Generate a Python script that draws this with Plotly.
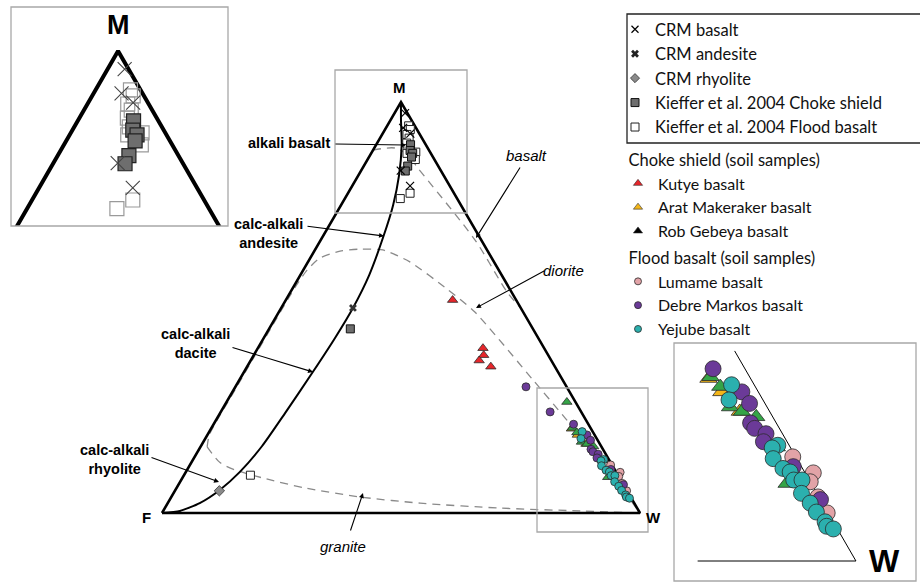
import numpy as np
import plotly.graph_objects as go

FIG_W, FIG_H = 920, 584
H = np.sqrt(3) / 2

# ---------------- compositions: M and W in percent (F = 100 - M - W) ----------------
crm_basalt_M = [97.3, 93.7, 92.3, 83.3, 79.6]
crm_basalt_W = [2.2, 3.6, 5.8, 8.3, 12.1]
crm_andesite_M = [49.9]
crm_andesite_W = [15.0]
crm_rhyolite_M = [5.4]
crm_rhyolite_W = [9.3]
kieffer_choke_M = [89.6, 88.2, 87.5, 86.6, 84.4, 83.2, 44.8]
kieffer_choke_W = [7.2, 7.8, 8.7, 8.9, 9.2, 9.3, 17.0]
kieffer_flood_M = [94.2, 93.3, 92.1, 91.2, 90.0, 88.7, 87.5, 87.8, 86.0, 77.8, 76.5, 9.2]
kieffer_flood_W = [4.5, 5.3, 5.2, 6.1, 6.2, 7.1, 7.5, 9.2, 10.0, 13.0, 11.6, 13.9]

kutye_M = [51.8, 40.1, 38.4, 37.1, 35.6]
kutye_W = [34.9, 47.1, 48.1, 47.8, 51.0]
arat_M = [20.5, 19.0, 16.8]
arat_W = [75.4, 77.4, 80.3]
rob_M = [27.0, 20.7, 19.6, 17.3, 16.8, 16.2, 12.8, 8.7]
rob_W = [71.2, 75.5, 77.0, 79.1, 80.5, 82.2, 85.9, 88.9]

lumame_M = [11.7, 9.9, 8.9, 7.2, 5.4]
lumame_W = [88.0, 90.9, 91.1, 92.7, 94.5]
debre_M = [30.7, 24.6, 21.6, 19.0, 17.7, 15.5, 14.9, 14.3, 13.4, 10.6, 6.9]
debre_W = [60.8, 68.9, 75.3, 79.4, 80.8, 82.0, 82.7, 84.1, 84.3, 88.6, 93.1]
yejube_M = [19.8, 18.1, 13.0, 12.7, 11.5, 10.4, 10.0, 9.1, 9.1, 7.6, 6.5, 5.5, 4.4, 3.9, 3.6]
yejube_W = [78.0, 78.6, 85.9, 85.5, 86.2, 87.7, 88.6, 89.4, 90.2, 90.9, 92.3, 93.4, 94.8, 95.2, 96.0]

# ---------------- diagram boundaries (M, W in percent) ----------------
frame_M = [0, 0, 100, 0]
frame_W = [0, 100, 0, 0]
calc_alkali_M = [0, 0.5, 2.4, 5.6, 10.0, 16.3, 24.3, 34.3, 42.6, 49.9, 57.9, 67.2, 74.9, 82.2, 89.5, 95.6, 100]
calc_alkali_W = [0, 3.5, 6.7, 9.3, 11.3, 12.8, 13.6, 14.4, 14.9, 15.0, 14.4, 12.7, 10.9, 8.5, 5.4, 2.2, 0]
granite_M = [16.1, 12.2, 10.5, 8.5, 6.1, 3.9, 2.4, 1.2, 0.5, 0]
granite_W = [1.4, 6.1, 10.0, 16.9, 26.9, 39.5, 52.8, 70.1, 87.2, 100]
diorite_M = [16.1, 19.0, 30.0, 45.0, 55.0, 59.1, 62.0, 63.7, 64.2, 64.0, 61.1, 54.3, 48.9, 32.4, 23.1, 12.9, 0]
diorite_W = [1.4, 0.4, 0.3, 0.3, 0.4, 0.8, 2.0, 5.4, 9.3, 14.2, 21.3, 32.7, 41.0, 61.4, 72.8, 85.2, 100]
basalt_M = [88.3, 88.8, 87.1, 83.9, 66.4, 53.5, 49.9]
basalt_W = [0, 4.3, 7.9, 11.6, 32.3, 45.6, 50.1]
# partial edges shown in the W close-up
w_edge_M = [23.6, 0, 0]
w_edge_W = [76.4, 100, 84.6]


def tern(m, w):
    m = np.asarray(m, float) / 100.0
    w = np.asarray(w, float) / 100.0
    return w + m / 2.0, m * H


def px(x):
    return x / FIG_W


def py(y):
    return 1 - y / FIG_H


AX = {"main": ("x", "y"), "mtop": ("x2", "y2"), "wcorner": ("x3", "y3")}
fig = go.Figure()


def add_line(m, w, ax, color="black", width=2.0, dash=None, shape="linear", smoothing=0.8):
    x, y = tern(m, w)
    xa, ya = AX[ax]
    fig.add_trace(go.Scatter(
        x=x, y=y, xaxis=xa, yaxis=ya, mode="lines",
        line=dict(color=color, width=width, dash=dash, shape=shape, smoothing=smoothing),
        hoverinfo="skip", showlegend=False))


def add_points(m, w, ax, symbol, size, fill, edge, edge_w):
    x, y = tern(m, w)
    xa, ya = AX[ax]
    fig.add_trace(go.Scatter(
        x=x, y=y, xaxis=xa, yaxis=ya, mode="markers",
        marker=dict(symbol=symbol, size=size, color=fill,
                    line=dict(color=edge, width=edge_w)),
        hoverinfo="skip", showlegend=False))


DASH = "8px,6px"
GREY_DASH = "#8a8a8a"

# main diagram
add_line(diorite_M, diorite_W, "main", GREY_DASH, 1.3, DASH, "spline", 0.6)
add_line(granite_M, granite_W, "main", GREY_DASH, 1.3, DASH, "spline")
add_line(basalt_M, basalt_W, "main", GREY_DASH, 1.3, DASH, "spline")
add_line(calc_alkali_M, calc_alkali_W, "main", "black", 2.0, None, "spline", 0.6)
add_line(frame_M, frame_W, "main", "black", 2.6)

# close-ups
add_line(frame_M, frame_W, "mtop", "black", 4.0)
add_line(w_edge_M, w_edge_W, "wcorner", "black", 1.0)

RED, YELLOW, GREEN = "#e6262b", "#f4b619", "#35a447"
PINK, PURPLE, TEAL = "#e2a3a7", "#6b3a98", "#2bb0ae"
EDGE = "#2b2b2b"

# igneous reference samples: main diagram + M close-up
add_points(kieffer_flood_M, kieffer_flood_W, "main", "square", 8, "white", "#222", 1)
add_points(kieffer_choke_M, kieffer_choke_W, "main", "square", 8, "#6e6e6e", "#111", 1)
add_points(crm_basalt_M, crm_basalt_W, "main", "x-thin-open", 8, "black", "black", 1.2)
add_points(crm_andesite_M, crm_andesite_W, "main", "x", 7, "#333", "#333", 0)
add_points(crm_rhyolite_M, crm_rhyolite_W, "main", "diamond", 8, "#8a8a8a", "#333", 0.8)

add_points(kieffer_flood_M, kieffer_flood_W, "mtop", "square", 14, "rgba(255,255,255,0)", "#9a9a9a", 1.2)
add_points(kieffer_choke_M, kieffer_choke_W, "mtop", "square", 14, "#6e6e6e", "#222", 1.2)
add_points(crm_basalt_M, crm_basalt_W, "mtop", "x-thin-open", 14, "#444", "#444", 1.1)

# soil samples: main diagram + W close-up
for ax, tri, circ in (("main", 9, 8), ("wcorner", 15, 16)):
    add_points(kutye_M, kutye_W, ax, "triangle-up", tri, RED, EDGE, 0.8)
    add_points(arat_M, arat_W, ax, "triangle-up", tri, YELLOW, EDGE, 0.8)
    add_points(rob_M, rob_W, ax, "triangle-up", tri, GREEN, EDGE, 0.8)
    add_points(lumame_M, lumame_W, ax, "circle", circ, PINK, EDGE, 0.8)
    add_points(debre_M, debre_W, ax, "circle", circ, PURPLE, EDGE, 0.8)
    add_points(yejube_M, yejube_W, ax, "circle", circ, TEAL, EDGE, 0.8)

# legend entries
legend_items = [
    ("CRM basalt", "legend", dict(symbol="x-thin-open", size=7, color="black", line=dict(color="black", width=1.2))),
    ("CRM andesite", "legend", dict(symbol="x", size=7, color="#222", line=dict(width=0))),
    ("CRM rhyolite", "legend", dict(symbol="diamond", size=7, color="#8a8a8a", line=dict(color="#333", width=0.8))),
    ("Kieffer et al. 2004 Choke shield", "legend", dict(symbol="square", size=8, color="#6e6e6e", line=dict(color="#111", width=1))),
    ("Kieffer et al. 2004 Flood basalt", "legend", dict(symbol="square", size=8, color="white", line=dict(color="#222", width=1))),
    ("Kutye basalt", "legend2", dict(symbol="triangle-up", size=8, color=RED, line=dict(color=EDGE, width=0.6))),
    ("Arat Makeraker basalt", "legend2", dict(symbol="triangle-up", size=8, color=YELLOW, line=dict(color=EDGE, width=0.6))),
    ("Rob Gebeya basalt", "legend2", dict(symbol="triangle-up", size=8, color="black", line=dict(color=EDGE, width=0.6))),
    ("Lumame basalt", "legend3", dict(symbol="circle", size=7, color=PINK, line=dict(color=EDGE, width=0.8))),
    ("Debre Markos basalt", "legend3", dict(symbol="circle", size=7, color=PURPLE, line=dict(color=EDGE, width=0.8))),
    ("Yejube basalt", "legend3", dict(symbol="circle", size=7, color=TEAL, line=dict(color=EDGE, width=0.8))),
]
for name, lg, mk in legend_items:
    fig.add_trace(go.Scatter(x=[None], y=[None], mode="markers", marker=mk,
                             name=name, legend=lg, showlegend=True))

LFONT = dict(family="Lato, Open Sans, sans-serif", size=16.5, color="#111")
LFONT_SOIL = dict(family="Lato, Open Sans, sans-serif", size=16, color="#111")
LBL = "Liberation Sans, Arial, sans-serif"


def text(x, y, s, size=14.5, bold=True, italic=False):
    if bold:
        s = "<b>" + s + "</b>"
    if italic:
        s = "<i>" + s + "</i>"
    return dict(x=px(x), y=py(y), xref="paper", yref="paper", text=s, showarrow=False,
                font=dict(family=LBL, size=size, color="black"),
                xanchor="center", yanchor="middle")


def arrow(x0, y0, x1, y1):
    return dict(x=px(x1), y=py(y1), xref="paper", yref="paper", ax=x0 - x1, ay=y0 - y1,
                axref="pixel", ayref="pixel", text="", showarrow=True,
                arrowhead=2, arrowsize=0.9, arrowwidth=1.1, arrowcolor="black")


annotations = [
    text(399, 88, "M", 15), text(146, 517, "F", 15), text(653, 517, "W", 15),
    text(118, 25, "M", 27), text(884, 561, "W", 32),
    text(289, 143, "alkali basalt"),
    text(268, 234, "calc-alkali<br>andesite"),
    text(195, 343, "calc-alkali<br>dacite"),
    text(114, 459, "calc-alkali<br>rhyolite"),
    text(526, 156, "basalt", 15, False, True),
    text(563, 270, "diorite", 15, False, True),
    text(343, 546, "granite", 15, False, True),
    arrow(334, 144, 406, 145),
    arrow(521, 166, 476, 238),
    arrow(546, 270, 476, 308),
    arrow(306, 226, 384, 236),
    arrow(231, 347, 313, 372),
    arrow(150, 457, 219, 482),
    arrow(350, 532, 363, 493),
]

BOX = "#a8a8a8"
shapes = []
for (x0, y0, x1, y1) in [(335, 70, 467, 213), (537, 388, 648, 532),
                         (11, 7, 228, 226), (674, 343, 916, 581)]:
    shapes.append(dict(type="rect", xref="paper", yref="paper",
                       x0=px(x0), x1=px(x1), y0=py(y1), y1=py(y0),
                       line=dict(color=BOX, width=1.3)))
shapes.append(dict(type="rect", xref="paper", yref="paper",
                   x0=px(627), x1=px(940), y0=py(143), y1=py(14),
                   line=dict(color="#222", width=1.3)))

NB = "\u00a0\u00a0"
hidden = dict(visible=False, fixedrange=True)
fig.update_layout(
    width=FIG_W, height=FIG_H, margin=dict(l=0, r=0, t=0, b=0),
    paper_bgcolor="white", plot_bgcolor="rgba(0,0,0,0)",
    xaxis=dict(domain=[0, 1], range=[-0.3389, 1.5858], **hidden),
    yaxis=dict(domain=[0, 1], range=[-0.1496, 1.0809], **hidden),
    xaxis2=dict(domain=[px(11), px(228)], range=[0.3618, 0.6419], anchor="y2", **hidden),
    yaxis2=dict(domain=[py(226), py(7)], range=[0.6402, 0.9228], anchor="x2", **hidden),
    xaxis3=dict(domain=[px(674), px(916)], range=[0.823, 1.0584], anchor="y3", **hidden),
    yaxis3=dict(domain=[py(581), py(343)], range=[-0.01946, 0.2121], anchor="x3", **hidden),
    annotations=annotations, shapes=shapes,
    legend=dict(x=px(615), y=py(12), xanchor="left", yanchor="top", font=LFONT,
                bgcolor="rgba(0,0,0,0)", borderwidth=0, tracegroupgap=0),
    legend2=dict(x=px(618), y=py(145), xanchor="left", yanchor="top", font=LFONT_SOIL,
                 title=dict(text=NB + "Choke shield (soil samples)", font=LFONT),
                 bgcolor="rgba(0,0,0,0)", borderwidth=0, tracegroupgap=0),
    legend3=dict(x=px(618), y=py(243), xanchor="left", yanchor="top", font=LFONT_SOIL,
                 title=dict(text=NB + "Flood basalt (soil samples)", font=LFONT),
                 bgcolor="rgba(0,0,0,0)", borderwidth=0, tracegroupgap=0),
    showlegend=True,
)

fig.write_html("out.html")
